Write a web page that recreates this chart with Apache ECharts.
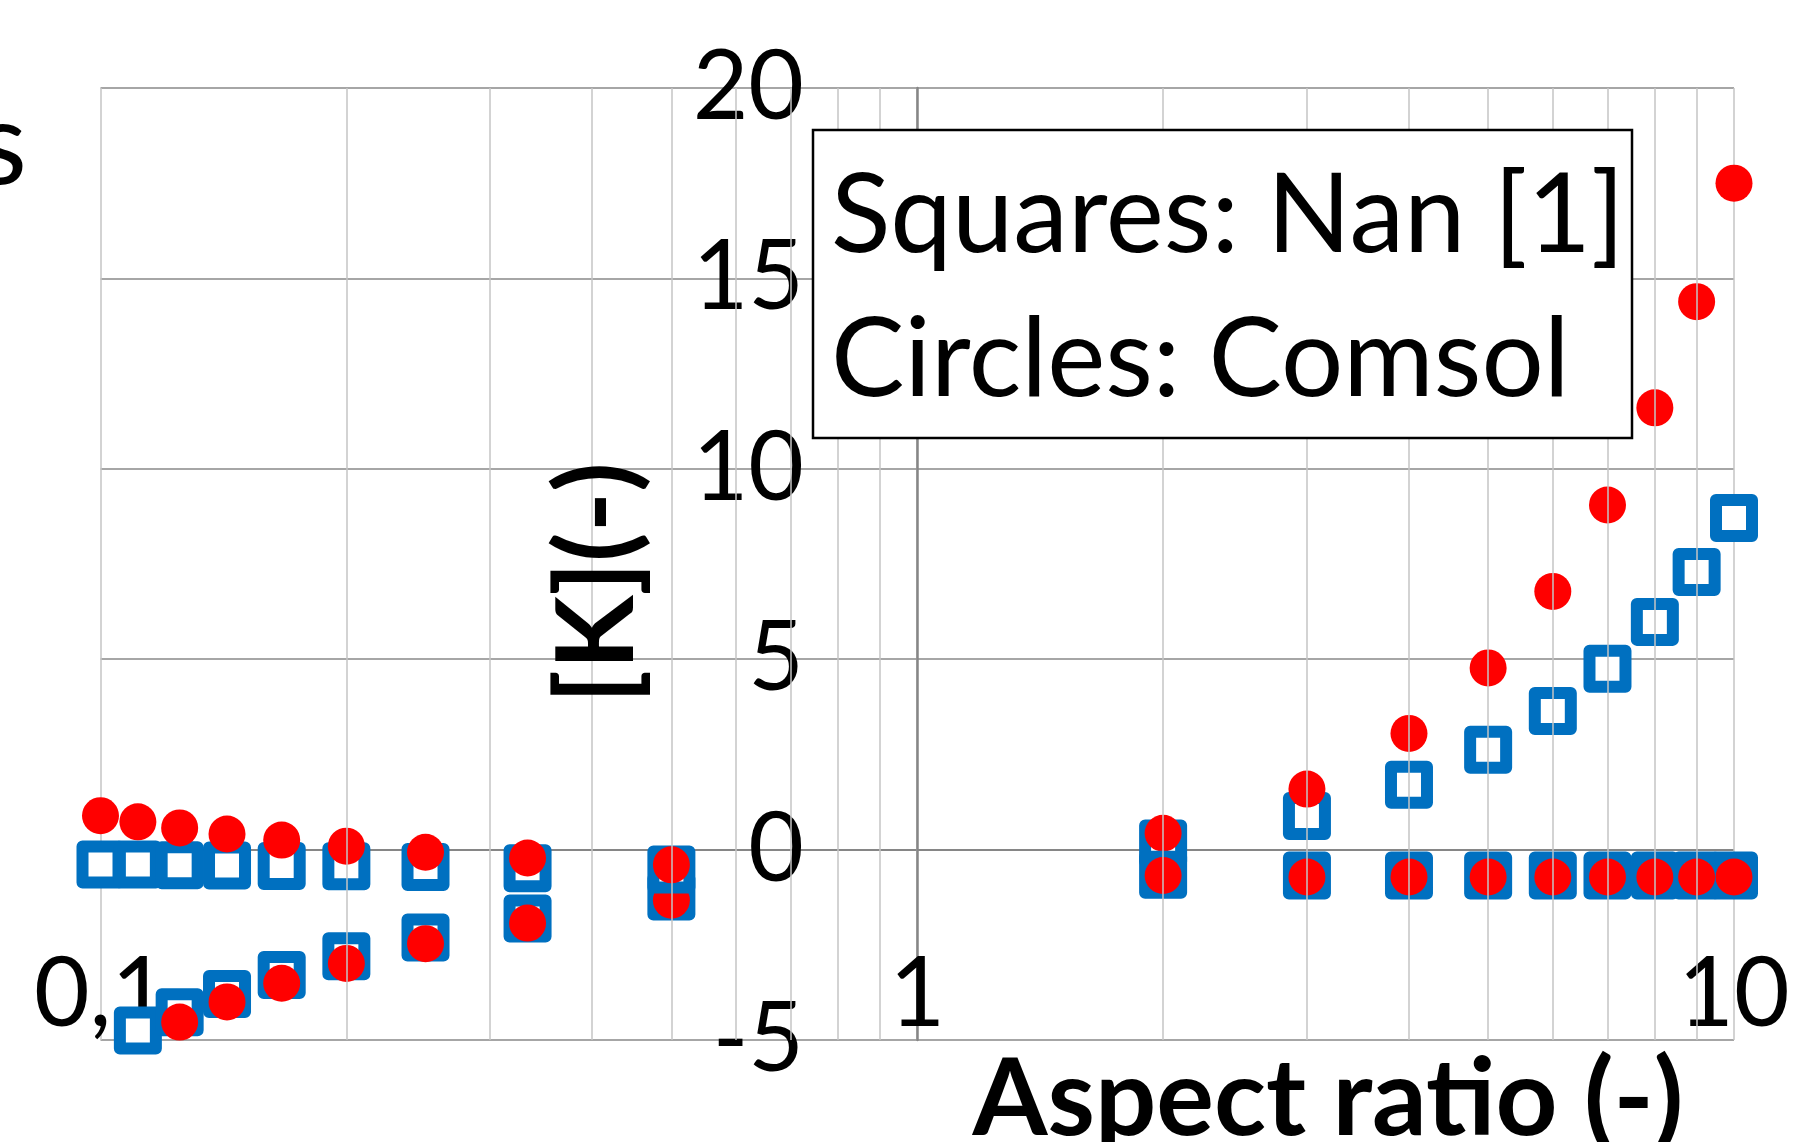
<!DOCTYPE html>
<html>
<head>
<meta charset="utf-8">
<script src="https://cdn.jsdelivr.net/npm/echarts@6/dist/echarts.min.js"></script>
<style>
  html, body { margin: 0; padding: 0; background: #fff; }
  #chart { width: 1793px; height: 1142px; }
</style>
</head>
<body>
<div id="chart"></div>
<script>
// aspect ratios (log x axis)
const ratioLeft = [0.1, 1 / 9, 1 / 8, 1 / 7, 1 / 6, 0.2, 0.25, 1 / 3, 0.5]
const ratioRight = [2, 3, 4, 5, 6, 7, 8, 9, 10]

// squares: Nan [1]
const nanLowLeft = [null, -4.75, -4.27, -3.79, -3.29, -2.8, -2.31, -1.81, -1.23]
const nanHighLeft = [-0.39, -0.39, -0.41, -0.42, -0.43, -0.44, -0.46, -0.49, -0.52]
const nanHighRight = [0.16, 0.88, 1.7, 2.62, 3.64, 4.75, 5.98, 7.29, 8.71]
const nanLowRight = [-0.66, -0.68, -0.68, -0.68, -0.68, -0.68, -0.68, -0.68, -0.68]

// circles: Comsol
const comsolLowLeft = [null, null, -4.53, -4.0, -3.51, -2.99, -2.47, -1.93, -1.33]
const comsolHighLeft = [0.89, 0.73, 0.57, 0.41, 0.25, 0.09, -0.07, -0.22, -0.4]
const comsolHighRight = [0.43, 1.59, 3.05, 4.77, 6.78, 9.05, 11.6, 14.39, 17.5]
const comsolLowRight = [-0.68, -0.72, -0.72, -0.72, -0.72, -0.72, -0.72, -0.72, -0.72]

// minor vertical grid lines of the log axis
const minorGridX = [0.2, 0.3, 0.4, 0.5, 0.6, 0.7, 0.8, 0.9, 2, 3, 4, 5, 6, 7, 8, 9]
const yTicks = [-5, 0, 5, 10, 15, 20]

const FONT = 'Lato, "Noto Sans", sans-serif'

function pairs(xs, ys) {
    let out = []
    xs.forEach((x, i) => {
        if (ys[i] !== null) out.push([x, ys[i]])
    })
    return out
}

let squareStyle = {
    type: 'scatter',
    symbol: 'rect',
    symbolSize: 36,
    itemStyle: { color: '#fff', borderColor: '#0070C0', borderWidth: 12, borderJoin: 'round', opacity: 1 },
    emphasis: { disabled: true },
    silent: true
}
let circleStyle = {
    type: 'scatter',
    symbol: 'circle',
    symbolSize: 37,
    itemStyle: { color: '#FF0000', opacity: 1 },
    emphasis: { disabled: true },
    silent: true
}

let option = {
    animation: false,
    backgroundColor: '#fff',
    textStyle: { fontFamily: FONT },
    grid: { left: 100.5, right: 59, top: 88, bottom: 102, containLabel: false, outerBoundsMode: 'none' },
    xAxis: {
        type: 'log',
        logBase: 10,
        min: 0.1,
        max: 10,
        axisLine: { show: false },
        axisTick: { show: false },
        splitLine: { show: true, lineStyle: { color: '#c4c4c4', width: 1.5 } },
        axisLabel: {
            fontSize: 96,
            fontFamily: FONT,
            color: '#000',
            margin: -45,
            verticalAlign: 'middle',
            showMinLabel: true,
            showMaxLabel: true,
            formatter: v => String(v).replace('.', ',')
        }
    },
    yAxis: {
        type: 'value',
        min: yTicks[0],
        max: yTicks[yTicks.length - 1],
        interval: 5,
        position: 'left',
        offset: -816.5,
        axisLine: { show: true, onZero: false, lineStyle: { color: '#868686', width: 2.5 } },
        axisTick: { show: false },
        axisLabel: { fontSize: 96, fontFamily: FONT, color: '#000', margin: 113 },
        splitLine: {
            show: true,
            lineStyle: {
                color: yTicks.map(v => (v === 0 ? '#868686' : '#a6a6a6')),
                width: 2
            }
        }
    },
    series: [
        {
            type: 'scatter',
            data: [],
            z: -1,
            silent: true,
            markLine: {
                silent: true,
                symbol: 'none',
                label: { show: false },
                lineStyle: { color: '#c4c4c4', width: 1.5, type: 'solid' },
                data: minorGridX.map(v => ({ xAxis: v }))
            }
        },
        Object.assign({ name: 'Nan A', data: pairs(ratioLeft, nanLowLeft).concat(pairs(ratioRight, nanHighRight)) }, squareStyle),
        Object.assign({ name: 'Comsol A', data: pairs(ratioLeft, comsolLowLeft).concat(pairs(ratioRight, comsolHighRight)) }, circleStyle),
        Object.assign({ name: 'Nan B', data: pairs(ratioLeft, nanHighLeft).concat(pairs(ratioRight, nanLowRight)) }, squareStyle),
        Object.assign({ name: 'Comsol B', data: pairs(ratioLeft, comsolHighLeft).concat(pairs(ratioRight, comsolLowRight)) }, circleStyle)
    ],
    graphic: [
        // legend box
        {
            type: 'rect',
            z: 50,
            shape: { x: 813, y: 130, width: 819, height: 308 },
            style: { fill: '#fff', stroke: '#000', lineWidth: 2.5 }
        },
        {
            type: 'text',
            z: 51,
            x: 831,
            y: 217,
            style: { text: 'Squares: Nan [1]', font: '110px ' + FONT, fill: '#000', align: 'left', verticalAlign: 'middle' }
        },
        {
            type: 'text',
            z: 51,
            x: 831,
            y: 361,
            style: { text: 'Circles: Comsol', font: '110px ' + FONT, fill: '#000', align: 'left', verticalAlign: 'middle' }
        },
        // axis titles
        {
            type: 'text',
            z: 51,
            x: 1328,
            y: 1100,
            style: { text: 'Aspect ratio (-)', font: 'bold 108px ' + FONT, fill: '#000', align: 'center', verticalAlign: 'middle' }
        },
        {
            type: 'text',
            z: 51,
            x: 598,
            y: 583,
            rotation: Math.PI / 2,
            style: { text: '[K](-)', font: 'bold 108px ' + FONT, fill: '#000', align: 'center', verticalAlign: 'middle' }
        },
        // cut-off title fragment at the left edge
        {
            type: 'text',
            z: 51,
            x: 27,
            y: 147,
            style: { text: 's', font: '116px ' + FONT, fill: '#000', align: 'right', verticalAlign: 'middle' }
        }
    ]
}

let chart = echarts.init(document.getElementById('chart'), null, { renderer: 'canvas' })
chart.setOption(option)
</script>
</body>
</html>
